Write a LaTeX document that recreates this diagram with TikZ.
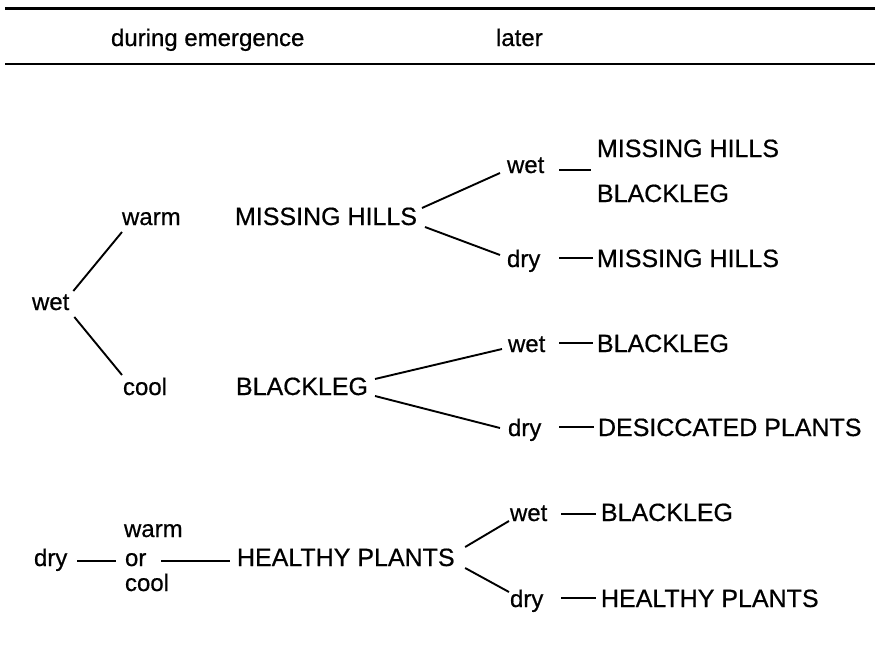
\documentclass[tikz,border=0pt]{standalone}
\usepackage{fontspec}
\setmainfont{Liberation Sans}[FakeBold=0.6]
\usetikzlibrary{calc}
\begin{document}
\begin{tikzpicture}[x=1pt,y=-1pt,
  txt/.style={inner sep=0pt,outer sep=0pt,anchor=base west,font=\fontsize{24}{28}\selectfont},
  caps/.style={inner sep=0pt,outer sep=0pt,anchor=base west,font=\fontsize{25}{30}\selectfont},
  rule/.style={line width=2.2pt},
  link/.style={line width=1.9pt},
  dashln/.style={line width=1.7pt}]
\useasboundingbox (0,0) rectangle (879,651);
% header rules
\coordinate (r1a) at (5,8.5);  \coordinate (r1b) at (875,8.5);
\coordinate (r2a) at (5,64);   \coordinate (r2b) at (875,64);
\draw[rule] (r1a) -- (r1b);
\draw[rule] (r2a) -- (r2b);
\node[txt] (hde) at (111,46) {during emergence};
\node[txt] (hlater) at (496,46) {later};
% first block
\node[txt] (wetL) at (32,310) {wet};
\node[txt] (warmA) at (122,225) {warm};
\node[txt] (coolA) at (123,395) {cool};
\node[caps] (mhM) at (235,225) {MISSING HILLS};
\node[caps] (blM) at (236,395) {BLACKLEG};
\node[txt] (wet1) at (507,173) {wet};
\node[txt] (dry1) at (507,267) {dry};
\node[txt] (wet2) at (508,352) {wet};
\node[txt] (dry2) at (508,436) {dry};
\node[caps] (mh1) at (597,157) {MISSING HILLS};
\node[caps] (bl1) at (597,202) {BLACKLEG};
\node[caps] (mh2) at (597,267) {MISSING HILLS};
\node[caps] (bl2) at (597,352) {BLACKLEG};
\node[caps] (dp) at (598,436) {DESICCATED PLANTS};
\coordinate (pairpt) at (591,170);
% connectors first block
\draw[link] ($(wetL.base east)+(4,-19)$) -- ($(warmA.base west)+(0,7)$);
\draw[link] ($(wetL.base east)+(5,7)$) -- ($(coolA.base west)+(-1,-20)$);
\draw[link] ($(mhM.base east)+(5,-17)$) -- ($(wet1.base west)+(-7,0)$);
\draw[link] ($(mhM.base east)+(8,2)$) -- ($(dry1.base west)+(-7,-12)$);
\draw[link] ($(blM.base east)+(7,-16)$) -- ($(wet2.base west)+(-6,-3)$);
\draw[link] ($(blM.base east)+(7,1)$) -- ($(dry2.base west)+(-8,-8)$);
\draw[dashln] ($(wet1.base east)+(15,-3)$) -- (pairpt);
\draw[dashln] ($(dry1.base east)+(19,-9)$) -- ($(mh2.base west)+(-4,-9)$);
\draw[dashln] ($(wet2.base east)+(14,-9)$) -- ($(bl2.base west)+(-4,-9)$);
\draw[dashln] ($(dry2.base east)+(18,-9)$) -- ($(dp.base west)+(-4,-9)$);
% second block
\node[txt] (dryB) at (34,566) {dry};
\node[txt] (warmB) at (124,537) {warm};
\node[txt] (orB) at (125,566) {or};
\node[txt] (coolB) at (125,591) {cool};
\node[caps] (hp) at (237,566) {HEALTHY PLANTS};
\node[txt] (wet3) at (510,521) {wet};
\node[txt] (dry3) at (510,607) {dry};
\node[caps] (bl3) at (601,521) {BLACKLEG};
\node[caps] (hp2) at (601,607) {HEALTHY PLANTS};
\draw[dashln] ($(dryB.base east)+(10,-5)$) -- ($(orB.base west)+(-9,-5)$);
\draw[dashln] ($(orB.base east)+(15,-5)$) -- ($(hp.base west)+(-7,-5)$);
\draw[link] ($(hp.base east)+(10.5,-19)$) -- ($(wet3.base west)+(-1,0)$);
\draw[link] ($(hp.base east)+(10.5,2)$) -- ($(dry3.base west)+(-1,-15)$);
\draw[dashln] ($(wet3.base east)+(14,-7)$) -- ($(bl3.base west)+(-5,-7)$);
\draw[dashln] ($(dry3.base east)+(18,-9)$) -- ($(hp2.base west)+(-5,-9)$);
\end{tikzpicture}
\end{document}
